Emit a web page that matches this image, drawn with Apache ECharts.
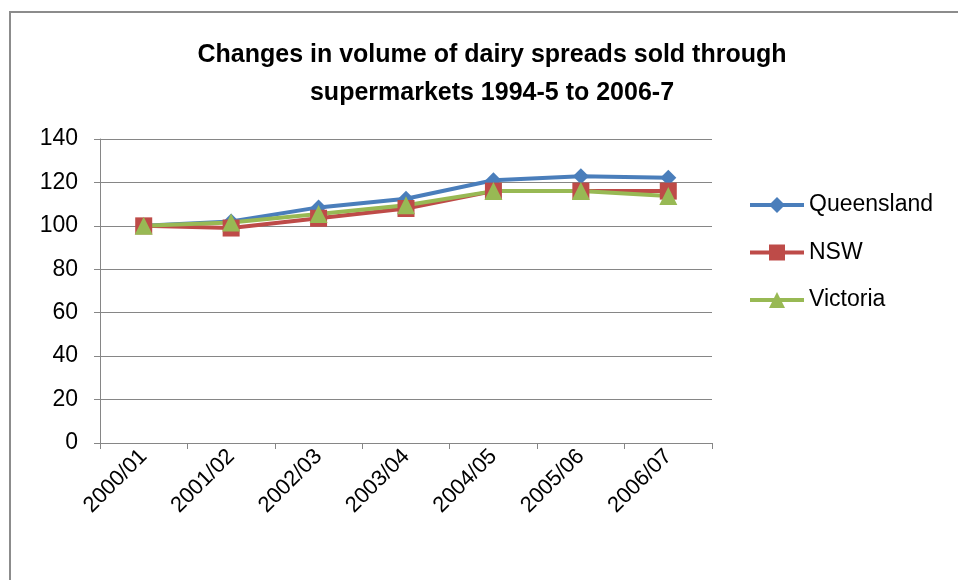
<!DOCTYPE html>
<html><head><meta charset="utf-8">
<script src="https://cdn.jsdelivr.net/npm/echarts@6/dist/echarts.min.js"></script>
<style>html,body{margin:0;padding:0;background:#fff}#c{width:958px;height:580px}</style>
</head><body><div id="c"></div>
<script>
const categories = ['2000/01','2001/02','2002/03','2003/04','2004/05','2005/06','2006/07'];
const queensland = [100, 102, 108.5, 112.5, 121, 122.8, 122.2];
const nsw = [100, 99, 103.5, 108, 116, 116, 116];
const victoria = [100, 101.5, 105.5, 109.5, 116, 116, 113.8];
const yTicks = [0, 20, 40, 60, 80, 100, 120, 140];

const font = '"Liberation Sans",Arial,sans-serif';
const chart = echarts.init(document.getElementById('c'));
chart.setOption({
  animation: false,
  textStyle: {fontFamily: font},
  graphic: [{type:'rect', shape:{x:10, y:12, width:960, height:600}, style:{fill:'none', stroke:'#8c8c8c', lineWidth:2}}],
  title: {
    text: 'Changes in volume of dairy spreads sold through\nsupermarkets 1994-5 to 2006-7',
    left: 487, top: 31, textAlign: 'center',
    textStyle: {fontFamily: font, fontSize: 25, fontWeight: 'bold', color: '#000', lineHeight: 38}
  },
  legend: {
    orient: 'vertical', left: 743, top: 188, itemGap: 23.5,
    itemWidth: 54, itemHeight: 20,
    lineStyle: {width: 4},
    textStyle: {fontFamily: font, fontSize: 23, color: '#000', lineHeight: 24},
    data: ['Queensland','NSW','Victoria']
  },
  grid: {left: 100, right: 246, top: 139, bottom: 137},
  xAxis: {
    type: 'category', data: categories, boundaryGap: true,
    axisLine: {lineStyle: {color: '#868686', width: 1}},
    axisTick: {show: true, alignWithLabel: false, length: 6, lineStyle: {color: '#868686'}},
    axisLabel: {rotate: 45, fontSize: 22, color: '#000', margin: 10, fontFamily: font}
  },
  yAxis: {
    type: 'value', min: yTicks[0], max: yTicks[yTicks.length-1], interval: 20,
    axisLine: {show: true, lineStyle: {color: '#868686'}},
    axisTick: {show: true, length: 6, lineStyle: {color: '#868686'}},
    splitLine: {lineStyle: {color: '#868686'}},
    axisLabel: {fontSize: 23, color: '#000', margin: 22, fontFamily: font}
  },
  series: [
    {name: 'Queensland', type: 'line', data: queensland, symbol: 'diamond', symbolSize: 16,
      lineStyle: {width: 4, color: '#4a7ebb'}, itemStyle: {color: '#4a7ebb'}},
    {name: 'NSW', type: 'line', data: nsw, symbol: 'rect', symbolSize: 17,
      lineStyle: {width: 4, color: '#be4b48'}, itemStyle: {color: '#be4b48'}},
    {name: 'Victoria', type: 'line', data: victoria, symbol: 'triangle', symbolSize: 18,
      lineStyle: {width: 4, color: '#98b954'}, itemStyle: {color: '#98b954'}}
  ]
});
</script></body></html>
